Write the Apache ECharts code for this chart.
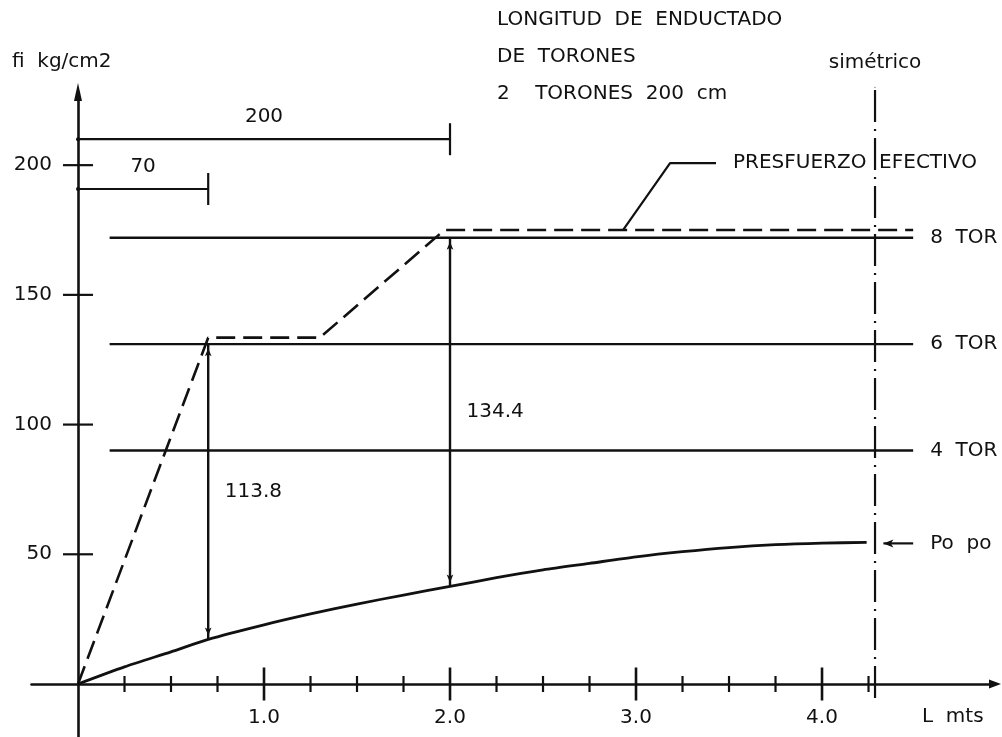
<!DOCTYPE html>
<html>
<head>
<meta charset="utf-8">
<script src="https://cdn.jsdelivr.net/npm/echarts@6/dist/echarts.min.js"></script>
<style>
  html, body { margin: 0; padding: 0; background: #ffffff; }
  #chart { width: 1002px; height: 737px; }
</style>
</head>
<body>
<div id="chart"></div>
<script>
// Distance along the beam (m) and initial prestress Po po (kg/cm2)
const poDistance = [0, 0.25, 0.5, 0.7, 1.0, 1.25, 1.5, 1.75, 2.0, 2.25, 2.5, 2.75, 3.0, 3.25, 3.5, 3.75, 4.0, 4.24];
const poStress   = [0, 6.6, 12.4, 17.2, 22.8, 27.0, 30.8, 34.3, 37.6, 41.0, 44.0, 46.5, 49.0, 51.0, 52.6, 53.7, 54.3, 54.6];

// Stress levels reached with 4, 6 and 8 strands
const torNames  = ['4 TOR', '6 TOR', '8 TOR'];
const torLevels = [90, 131, 172];
const torSpan   = [0.17, 4.49];

// Effective prestress (dashed)
const efDistance = [0, 0.70, 1.30, 1.97, 4.49];
const efStress   = [0, 133.5, 133.5, 175, 175];

// Debonded lengths (cm) and the height of their dimension lines
const debondLengths = [70, 200];
const debondLevels  = [190.8, 210];

// Stress differences at the debonding points
const gapDistance = [0.70, 2.0];
const gapTop      = [131, 172];
const gapValues   = [113.8, 134.4];

// Symmetry axis of the beam (m) and its extent
const symmetryX = 4.285;
const symmetryRange = [-5.4, 230];

// Leader lines for the annotations
const presLeader = [[2.93, 175], [3.183, 200.8], [3.43, 200.8]];
const poLeader   = [[4.33, 54.2], [4.49, 54.2]];

// Axis ticks
const xMajorTicks = [1, 2, 3, 4];
const xMinorTicks = [0.25, 0.5, 0.75, 1.25, 1.5, 1.75, 2.25, 2.5, 2.75, 3.25, 3.5, 3.75, 4.25];
const yTicks = [50, 100, 150, 200];

// Plotted ranges
const xRange = [-0.25, 4.93];
const yRange = [-20.43, 228.2];

const INK = '#111111';
const FONT = 'DejaVu Sans';
const textStyle = { color: INK, fontFamily: FONT, fontSize: 20 };
const solidInk = { color: INK, opacity: 1 };
const hiddenPoint = { color: 'rgba(0,0,0,0)', opacity: 1 };

// Grid box in pixels
const GRID = { left: 31.5, right: 7, top: 92, bottom: 0 };
const W = 1002, H = 737;
const pxPerX = (W - GRID.left - GRID.right) / (xRange[1] - xRange[0]);
const pxPerY = (H - GRID.top - GRID.bottom) / (yRange[1] - yRange[0]);

const series = [];

// Po po curve
series.push({
  type: 'line', name: 'Po po', smooth: 0.25, showSymbol: false, silent: true,
  data: poDistance.map((x, i) => [x, poStress[i]]),
  lineStyle: { color: INK, width: 2.8 }
});
series.push({
  type: 'line', name: 'Po po leader', silent: true,
  data: [
    { value: poLeader[0], symbol: 'arrow', symbolRotate: 90, symbolSize: [6, 10], itemStyle: solidInk },
    { value: poLeader[1], symbol: 'none' }
  ],
  lineStyle: { color: INK, width: 2.2 },
  endLabel: Object.assign({ show: true, formatter: 'Po  po', distance: 17 }, textStyle)
});

// Strand levels
torLevels.forEach((lvl, i) => {
  series.push({
    type: 'line', name: torNames[i], showSymbol: false, silent: true,
    data: torSpan.map(x => [x, lvl]),
    lineStyle: { color: INK, width: 2.4 },
    endLabel: Object.assign({ show: true, formatter: torNames[i].replace(' ', '  '), distance: 17 }, textStyle)
  });
});

// Effective prestress
series.push({
  type: 'line', name: 'Presfuerzo efectivo', showSymbol: false, silent: true,
  data: efDistance.map((x, i) => [x, efStress[i]]),
  lineStyle: { color: INK, width: 2.6, type: [19, 8] }
});
series.push({
  type: 'line', name: 'Presfuerzo leader', showSymbol: false, silent: true,
  data: presLeader,
  lineStyle: { color: INK, width: 2.2 },
  endLabel: Object.assign({ show: true, formatter: 'PRESFUERZO  EFECTIVO', distance: 17 }, textStyle)
});

// Stress differences between strand level and Po po
gapDistance.forEach((x, i) => {
  series.push({
    type: 'line', name: 'gap ' + gapValues[i], silent: true,
    data: [
      { value: [x, gapTop[i] - gapValues[i]], symbol: 'arrow', symbolRotate: 180, symbolSize: [5, 8], symbolOffset: [0, -4] },
      { value: [x, gapTop[i]], symbol: 'arrow', symbolSize: [5, 8], symbolOffset: [0, 4] }
    ],
    itemStyle: solidInk,
    lineStyle: { color: INK, width: 2.4 }
  });
});
series.push({
  type: 'scatter', name: 'gap labels', silent: true, symbolSize: 1,
  itemStyle: hiddenPoint,
  data: gapDistance.map((x, i) => ({
    value: [x, gapTop[i] - gapValues[i] / 2],
    label: Object.assign({ show: true, position: 'right', distance: 16, formatter: gapValues[i].toFixed(1) }, textStyle)
  }))
});

// Debonded length dimensions
debondLengths.forEach((cm, i) => {
  series.push({
    type: 'line', name: 'debond ' + cm, silent: true,
    data: [
      { value: [0, debondLevels[i]], symbol: 'circle', symbolSize: 4 },
      { value: [cm / 100, debondLevels[i]], symbol: 'rect', symbolSize: [2.2, 32] }
    ],
    itemStyle: solidInk,
    lineStyle: { color: INK, width: 2.2 }
  });
});
series.push({
  type: 'scatter', name: 'debond labels', silent: true, symbolSize: 1,
  itemStyle: hiddenPoint,
  data: debondLengths.map((cm, i) => ({
    value: [cm / 200, debondLevels[i]],
    label: Object.assign({ show: true, position: 'top', distance: 12, formatter: String(cm) }, textStyle)
  }))
});

// Symmetry axis (runs a little past the plotting box at the top)
series.push({
  type: 'line', name: 'simétrico', silent: true, clip: false,
  data: [
    { value: [symmetryX, symmetryRange[0]], symbol: 'none' },
    { value: [symmetryX, symmetryRange[1]], symbol: 'circle', symbolSize: 1,
      label: Object.assign({ show: true, position: 'top', distance: 14, formatter: 'simétrico' }, textStyle) }
  ],
  itemStyle: solidInk,
  lineStyle: { color: INK, width: 2.2, type: [32, 7, 2, 7] }
});

// Axis ticks crossing the axis lines
series.push({
  type: 'scatter', name: 'x major ticks', silent: true, symbol: 'rect', symbolSize: [2.6, 33],
  itemStyle: solidInk, data: xMajorTicks.map(x => [x, 0])
});
series.push({
  type: 'scatter', name: 'x minor ticks', silent: true, symbol: 'rect', symbolSize: [2.2, 16],
  itemStyle: solidInk, data: xMinorTicks.map(x => [x, 0])
});
series.push({
  type: 'scatter', name: 'y ticks', silent: true, symbol: 'rect', symbolSize: [30, 2.2],
  itemStyle: solidInk, data: yTicks.map(y => [0, y])
});

const chart = echarts.init(document.getElementById('chart'), null, { renderer: 'canvas' });
chart.setOption({
  animation: false,
  backgroundColor: '#ffffff',
  grid: Object.assign({ containLabel: false, outerBoundsMode: 'none' }, GRID),
  xAxis: {
    type: 'value', min: xRange[0], max: xRange[1], position: 'bottom',
    // shift the axis up to the zero stress level, labels included
    offset: -(0 - yRange[0]) * pxPerY,
    axisLine: { onZero: false, symbol: ['none', 'triangle'], symbolSize: [9, 12], lineStyle: { color: INK, width: 2.6 } },
    axisTick: { show: false },
    splitLine: { show: false },
    axisLabel: Object.assign({ customValues: xMajorTicks, formatter: v => v.toFixed(1), margin: 24 }, textStyle)
  },
  yAxis: {
    type: 'value', min: yRange[0], max: yRange[1], position: 'left',
    // shift the axis right to the beam end, labels included
    offset: -(0 - xRange[0]) * pxPerX,
    axisLine: { onZero: false, symbol: ['none', 'triangle'], symbolSize: [8, 18], lineStyle: { color: INK, width: 2.6 } },
    axisTick: { show: false },
    splitLine: { show: false },
    axisLabel: Object.assign({ customValues: yTicks, margin: 26 }, textStyle)
  },
  graphic: [
    { type: 'text', x: 12, y: 62, style: { text: 'fi  kg/cm2', fill: INK, font: '20px "DejaVu Sans"', align: 'left', verticalAlign: 'middle' } },
    { type: 'text', x: 497, y: 20, style: { text: 'LONGITUD  DE  ENDUCTADO', fill: INK, font: '20px "DejaVu Sans"', align: 'left', verticalAlign: 'middle' } },
    { type: 'text', x: 497, y: 57, style: { text: 'DE  TORONES', fill: INK, font: '20px "DejaVu Sans"', align: 'left', verticalAlign: 'middle' } },
    { type: 'text', x: 497, y: 94, style: { text: '2    TORONES  200  cm', fill: INK, font: '20px "DejaVu Sans"', align: 'left', verticalAlign: 'middle' } },
    { type: 'text', x: 922, y: 717, style: { text: 'L  mts', fill: INK, font: '20px "DejaVu Sans"', align: 'left', verticalAlign: 'middle' } }
  ],
  series: series
});
</script>
</body>
</html>
